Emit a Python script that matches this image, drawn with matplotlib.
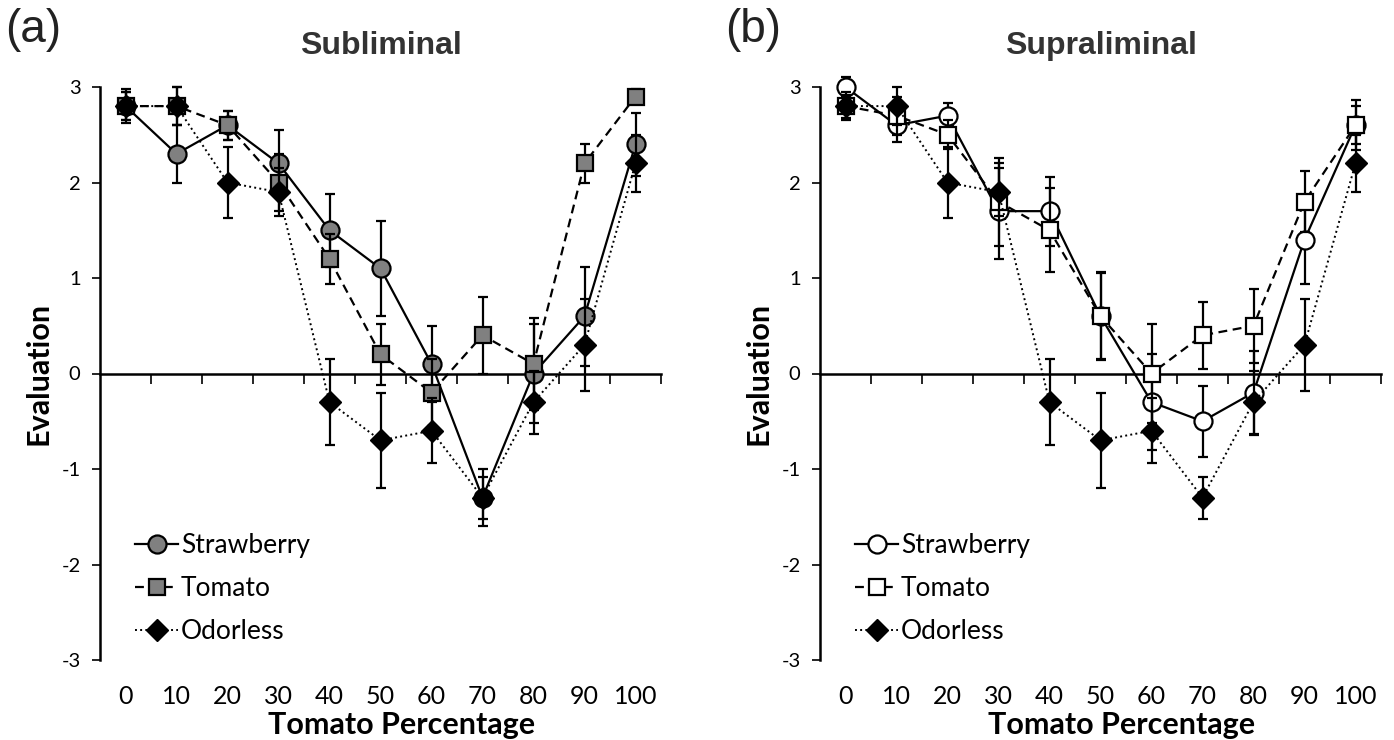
import matplotlib
matplotlib.use('Agg')
import matplotlib.pyplot as plt

# tomato percentage categories
pct = [0, 10, 20, 30, 40, 50, 60, 70, 80, 90, 100]

# (a) subliminal
sub_straw = [2.8, 2.3, 2.6, 2.2, 1.5, 1.1, 0.1, -1.3, 0.0, 0.6, 2.4]
sub_straw_err = [0.18, 0.3, 0.15, 0.35, 0.38, 0.5, 0.4, 0.3, 0.52, 0.52, 0.33]
sub_tomato = [2.8, 2.8, 2.6, 2.0, 1.2, 0.2, -0.2, 0.4, 0.1, 2.2, 2.9]
sub_tomato_err = [0.15, 0.2, 0.15, 0.3, 0.26, 0.32, 0.35, 0.4, 0.48, 0.2, 0.08]

# (b) supraliminal
sup_straw = [3.0, 2.6, 2.7, 1.7, 1.7, 0.6, -0.3, -0.5, -0.2, 1.4, 2.6]
sup_straw_err = [0.1, 0.18, 0.13, 0.5, 0.36, 0.45, 0.5, 0.37, 0.44, 0.46, 0.2]
sup_tomato = [2.8, 2.7, 2.5, 1.8, 1.5, 0.6, 0.0, 0.4, 0.5, 1.8, 2.6]
sup_tomato_err = [0.12, 0.2, 0.15, 0.46, 0.44, 0.46, 0.52, 0.35, 0.39, 0.32, 0.26]

# odorless control (same in both panels)
odorless = [2.8, 2.8, 2.0, 1.9, -0.3, -0.7, -0.6, -1.3, -0.3, 0.3, 2.2]
odorless_err = [0.15, 0.2, 0.37, 0.25, 0.45, 0.5, 0.34, 0.22, 0.33, 0.48, 0.3]

plt.rcParams['font.family'] = ['Lato', 'DejaVu Sans']
plt.rcParams['axes.unicode_minus'] = False

fig = plt.figure(figsize=(13.94, 7.4), dpi=100)

ax_h = 573 / 740
ax_b = 1 - 660 / 740
ax_w = 561 / 1394
axes = [fig.add_axes([100 / 1394, ax_b, ax_w, ax_h]),
        fig.add_axes([820 / 1394, ax_b, ax_w, ax_h])]


def panel(ax, title, straw, straw_err, tomato, tomato_err, fill):
    lw = 1.6
    ms = 13
    eb = dict(fmt='none', ecolor='black', elinewidth=1.6, capsize=3.5, capthick=1.6,
              clip_on=False)

    ax.errorbar(pct, straw, yerr=straw_err, zorder=2, **eb)
    h1, = ax.plot(pct, straw, '-', color='black', lw=lw, marker='o', ms=ms,
                  mfc=fill, mec='black', mew=1.6, zorder=3, label='Strawberry',
                  clip_on=False)
    ax.errorbar(pct, tomato, yerr=tomato_err, zorder=4, **eb)
    h2, = ax.plot(pct, tomato, '--', color='black', lw=lw, marker='s', ms=ms - 1,
                  mfc=fill, mec='black', mew=1.6, zorder=5, label='Tomato',
                  dashes=(4, 2.5), clip_on=False)
    ax.errorbar(pct, odorless, yerr=odorless_err, zorder=6, **eb)
    h3, = ax.plot(pct, odorless, ':', color='black', lw=1.4, marker='D', ms=ms - 2,
                  mfc='black', mec='black', mew=1, zorder=7, label='Odorless',
                  clip_on=False)

    ax.set_xlim(-5, 105)
    ax.set_ylim(-3, 3)
    ax.spines['top'].set_visible(False)
    ax.spines['right'].set_visible(False)
    ax.spines['left'].set_linewidth(1.8)
    ax.spines['bottom'].set_position(('data', 0))
    ax.spines['bottom'].set_linewidth(1.8)

    ax.set_yticks([-3, -2, -1, 0, 1, 2, 3])
    ax.tick_params(axis='y', direction='out', length=6, width=1.2, labelsize=14.5, pad=8)
    ax.set_xticks(list(range(5, 106, 10)))
    ax.tick_params(axis='x', direction='out', length=7, width=1.2, labelbottom=False)

    sec = ax.secondary_xaxis('bottom')
    sec.set_xticks(pct)
    sec.tick_params(length=0, labelsize=18, pad=18)
    sec.spines['bottom'].set_visible(False)
    sec.set_xlabel('Tomato Percentage', fontsize=22, fontweight='bold', labelpad=2)
    sec.xaxis.label.set_x(0.537)

    ax.set_ylabel('Evaluation', fontsize=22, fontweight='bold', labelpad=6)
    ax.set_title(title, fontsize=23, fontweight='bold', color='#333333',
                 family='Liberation Sans', pad=24)

    ax.legend(handles=[h1, h2, h3], loc='lower left', bbox_to_anchor=(0.035, 0.0),
              frameon=False, fontsize=19, numpoints=1, handlelength=1.6,
              handletextpad=0.12, labelspacing=0.68, borderaxespad=0.2)


panel(axes[0], 'Subliminal', sub_straw, sub_straw_err, sub_tomato, sub_tomato_err, '#808080')
panel(axes[1], 'Supraliminal', sup_straw, sup_straw_err, sup_tomato, sup_tomato_err, 'white')

fig.text(5 / 1394, 1 - 30 / 740, '(a)', fontsize=33, family='Liberation Sans',
         color='#222222', va='center', ha='left')
fig.text(725 / 1394, 1 - 30 / 740, '(b)', fontsize=33, family='Liberation Sans',
         color='#222222', va='center', ha='left')

fig.savefig('out.png', dpi=100)
